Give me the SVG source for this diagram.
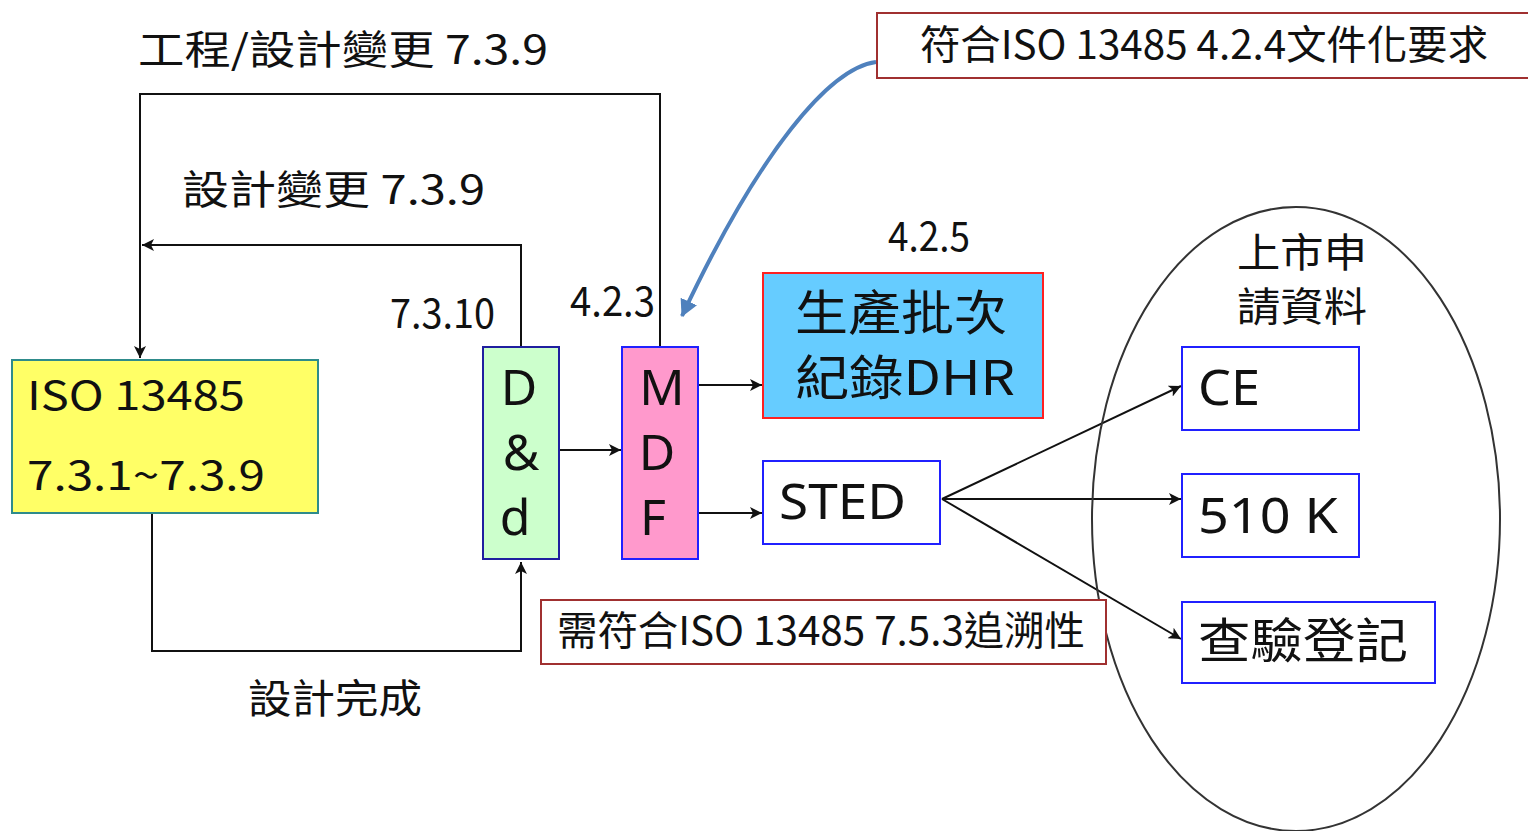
<svg xmlns="http://www.w3.org/2000/svg" width="1528" height="831" viewBox="0 0 1528 831">
<style>
text{font-family:"Noto Sans CJK TC","Noto Sans",sans-serif;fill:#111;}
.c{fill:none;stroke:#111;stroke-width:2;}
.t40{font-size:40px;}
.t48{font-size:48px;}
.big{font-family:"Noto Sans","Noto Sans CJK TC",sans-serif;font-size:50px;}
</style>
<defs>
<marker id="ah" markerUnits="userSpaceOnUse" markerWidth="14" markerHeight="12" refX="12" refY="6" orient="auto">
<path d="M0,0 L12,6 L0,12 L3,6 Z" fill="#111"/>
</marker>
<marker id="bh" markerUnits="userSpaceOnUse" markerWidth="20" markerHeight="20" refX="16" refY="9" orient="auto">
<path d="M0,0 L17,9 L0,18 Z" fill="#4F81BD"/>
</marker>
</defs>
<rect width="1528" height="831" fill="#fff"/>

<g id="labels">
<text class="t40" x="138" y="64" textLength="410" lengthAdjust="spacingAndGlyphs">工程/設計變更 7.3.9</text>
<text class="t40" x="182" y="204" textLength="303" lengthAdjust="spacingAndGlyphs">設計變更 7.3.9</text>
<text class="t40" x="390" y="328" textLength="105" lengthAdjust="spacingAndGlyphs">7.3.10</text>
<text class="t40" x="570" y="316" textLength="85" lengthAdjust="spacingAndGlyphs">4.2.3</text>
<text class="t40" x="888" y="251" textLength="82" lengthAdjust="spacingAndGlyphs">4.2.5</text>
<text class="t40" x="248" y="713" textLength="174" lengthAdjust="spacingAndGlyphs">設計完成</text>
</g>

<g id="connectors">
<polyline class="c" points="660,347 660,94 140,94 140,358" marker-end="url(#ah)"/>
<polyline class="c" points="521,347 521,245 142,245" marker-end="url(#ah)"/>
<polyline class="c" points="152,513 152,651 521,651 521,562" marker-end="url(#ah)"/>
<line class="c" x1="559" y1="450" x2="621" y2="450" marker-end="url(#ah)"/>
<line class="c" x1="698" y1="385" x2="762" y2="385" marker-end="url(#ah)"/>
<line class="c" x1="698" y1="513" x2="762" y2="513" marker-end="url(#ah)"/>
<line class="c" x1="942" y1="499" x2="1181" y2="386" marker-end="url(#ah)"/>
<line class="c" x1="942" y1="499" x2="1181" y2="499" marker-end="url(#ah)"/>
<line class="c" x1="942" y1="499" x2="1181" y2="639" marker-end="url(#ah)"/>
<path d="M876,62 C830,68 760,150 682,316" fill="none" stroke="#4F81BD" stroke-width="4" marker-end="url(#bh)"/>
</g>

<g id="market-ellipse">
<ellipse cx="1296" cy="519" rx="204" ry="312" fill="none" stroke="#333" stroke-width="2"/>
<text class="t40" x="1237" y="267" textLength="130" lengthAdjust="spacingAndGlyphs">上市申</text>
<text class="t40" x="1237" y="321" textLength="130" lengthAdjust="spacingAndGlyphs">請資料</text>
</g>

<g id="iso-box">
<rect x="12" y="360" width="306" height="153" fill="#FFFF66" stroke="#2E8B8B" stroke-width="2"/>
<text class="t40" x="27" y="410" textLength="218" lengthAdjust="spacingAndGlyphs">ISO 13485</text>
<text class="t40" x="27" y="490" textLength="238" lengthAdjust="spacingAndGlyphs">7.3.1~7.3.9</text>
</g>

<g id="dd-box">
<rect x="483" y="347" width="76" height="212" fill="#CCFFCC" stroke="#1F1F9F" stroke-width="2"/>
<text class="big" x="519" y="405" text-anchor="middle">D</text>
<text class="big" x="521" y="470" text-anchor="middle">&amp;</text>
<text class="big" x="515" y="535" text-anchor="middle">d</text>
</g>

<g id="mdf-box">
<rect x="622" y="347" width="76" height="212" fill="#FF99CC" stroke="#2020FF" stroke-width="2"/>
<text class="big" x="662" y="405" text-anchor="middle">M</text>
<text class="big" x="657" y="470" text-anchor="middle">D</text>
<text class="big" x="653" y="535" text-anchor="middle">F</text>
</g>

<g id="dhr-box">
<rect x="763" y="273" width="280" height="145" fill="#66CCFF" stroke="#FF2020" stroke-width="2"/>
<text class="t48" x="795" y="330" textLength="212" lengthAdjust="spacingAndGlyphs">生產批次</text>
<text class="t48" x="795" y="395" textLength="220" lengthAdjust="spacingAndGlyphs">紀錄DHR</text>
</g>

<g id="sted-box">
<rect x="763" y="461" width="177" height="83" fill="#fff" stroke="#2020FF" stroke-width="2"/>
<text class="big" x="779" y="519" textLength="127" lengthAdjust="spacingAndGlyphs">STED</text>
</g>

<g id="ce-box">
<rect x="1182" y="347" width="177" height="83" fill="#fff" stroke="#2020FF" stroke-width="2"/>
<text class="big" x="1198" y="405" textLength="62" lengthAdjust="spacingAndGlyphs">CE</text>
</g>

<g id="k510-box">
<rect x="1182" y="474" width="177" height="83" fill="#fff" stroke="#2020FF" stroke-width="2"/>
<text class="big" x="1198" y="533" textLength="140" lengthAdjust="spacingAndGlyphs">510 K</text>
</g>

<g id="inspect-box">
<rect x="1182" y="602" width="253" height="81" fill="#fff" stroke="#2020FF" stroke-width="2"/>
<text class="t48" x="1198" y="658" textLength="210" lengthAdjust="spacingAndGlyphs">查驗登記</text>
</g>

<g id="note-424">
<rect x="877" y="13" width="655" height="65" fill="#fff" stroke="#A03030" stroke-width="2"/>
<text class="t40" x="920" y="59" textLength="568" lengthAdjust="spacingAndGlyphs">符合ISO 13485 4.2.4文件化要求</text>
</g>

<g id="note-753">
<rect x="541" y="600" width="565" height="64" fill="#fff" stroke="#A03030" stroke-width="2"/>
<text class="t40" x="557" y="645" textLength="528" lengthAdjust="spacingAndGlyphs">需符合ISO 13485 7.5.3追溯性</text>
</g>
</svg>
